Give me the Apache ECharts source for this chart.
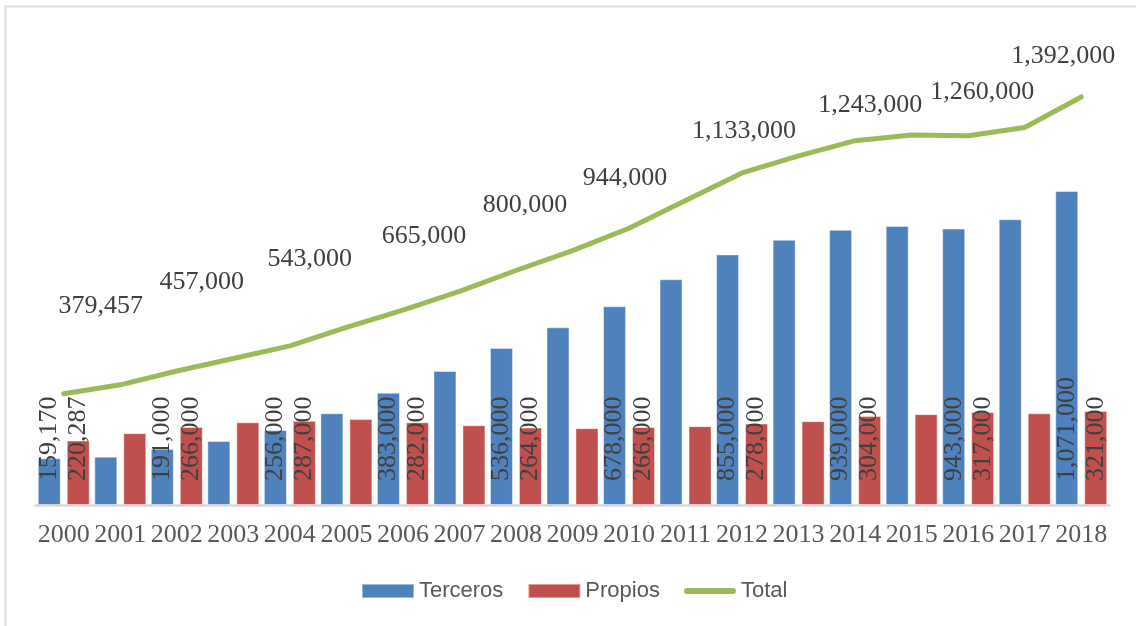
<!DOCTYPE html>
<html>
<head>
<meta charset="utf-8">
<script src="https://cdn.jsdelivr.net/npm/echarts@6/dist/echarts.min.js"></script>
<style>
  html, body { margin: 0; padding: 0; background: #ffffff; }
  #chart { width: 1136px; height: 626px; }
</style>
</head>
<body>
<div id="chart"></div>
<script>
// Years on the category axis
const years = ['2000','2001','2002','2003','2004','2005','2006','2007','2008','2009',
               '2010','2011','2012','2013','2014','2015','2016','2017','2018'];

// Series values
const terceros = [159170,165000,191000,218000,256000,313000,383000,457000,536000,606000,
                  678000,770000,855000,905000,939000,952000,943000,975000,1071000];
const propios  = [220287,245000,266000,282000,287000,293000,282000,272000,264000,262000,
                  266000,269000,278000,286000,304000,310000,317000,313000,321000];
const total    = [379457,410000,457000,500000,543000,606000,665000,729000,800000,868000,
                  944000,1039000,1133000,1191000,1243000,1262000,1260000,1288000,1392000];

// Years whose values carry a data label
const labeledYears = ['2000','2002','2004','2006','2008','2010','2012','2014','2016','2018'];

// Placement of the Total labels relative to their points (one per labelled year)
const totalLabelShift = [[37,-88],[25,-89],[20,-87],[21,-74],[9,-65],[-4,-50],[2,-42],[15,-35],[14,-43],[-18,-41]];

const fmt = v => v.toLocaleString('en-US');
const serif = '"Liberation Serif", "Times New Roman", serif';
const sans = '"Liberation Sans", Arial, sans-serif';

function barData(values) {
  return values.map((v, i) => ({
    value: v,
    label: { show: labeledYears.includes(years[i]) }
  }));
}

const totalData = total.map((v, i) => {
  const k = labeledYears.indexOf(years[i]);
  return {
    value: v,
    label: k >= 0 ? { show: true, offset: totalLabelShift[k] } : { show: false }
  };
});

const barLabel = {
  rotate: 90,
  position: 'insideBottom',
  distance: 24,
  align: 'left',
  verticalAlign: 'middle',
  fontFamily: serif,
  fontSize: 26,
  color: '#404040',
  formatter: p => fmt(p.value)
};

// Rounded thick stroke used as the legend key of the line series
const lineKey = 'path://M3,0 L49,0 A3,3 0 0 1 49,6 L3,6 A3,3 0 0 1 3,0 Z';

const chart = echarts.init(document.getElementById('chart'), null, { renderer: 'canvas' });

chart.setOption({
  animation: false,
  backgroundColor: '#ffffff',
  graphic: [{
    type: 'rect',
    shape: { x: 5.5, y: 6.5, width: 1300, height: 800 },
    style: { fill: 'none', stroke: '#dedede', lineWidth: 2 },
    silent: true,
    z: -10
  }],
  grid: { left: 35.5, right: 26.5, top: 36, bottom: 121 },
  legend: {
    left: 361,
    top: 580,
    padding: 0,
    itemWidth: 52,
    itemHeight: 14,
    itemGap: 24,
    textStyle: { fontFamily: sans, fontSize: 22, color: '#595959' },
    data: [
      { name: 'Terceros', icon: 'rect' },
      { name: 'Propios', icon: 'rect' },
      { name: 'Total', icon: lineKey }
    ]
  },
  xAxis: {
    type: 'category',
    data: years,
    axisLine: { show: true, lineStyle: { color: '#d9d9d9', width: 2.5 } },
    axisTick: { show: false },
    axisLabel: {
      interval: 0,
      margin: 17,
      fontFamily: serif,
      fontSize: 26,
      color: '#595959'
    },
    splitLine: { show: false }
  },
  yAxis: {
    type: 'value',
    min: 0,
    max: 1600000,
    show: false,
    splitLine: { show: false }
  },
  series: [
    {
      name: 'Terceros',
      type: 'bar',
      data: barData(terceros),
      barWidth: 23,
      barGap: '26%',
      itemStyle: { color: '#4f81bd', borderColor: 'rgba(255,255,255,0.45)', borderWidth: 1 },
      label: barLabel,
      z: 2
    },
    {
      name: 'Propios',
      type: 'bar',
      data: barData(propios),
      barWidth: 23,
      barGap: '26%',
      itemStyle: { color: '#c0504d', borderColor: 'rgba(255,255,255,0.45)', borderWidth: 1 },
      label: barLabel,
      z: 2
    },
    {
      name: 'Total',
      type: 'line',
      data: totalData,
      symbol: 'circle',
      symbolSize: 1,
      showSymbol: true,
      itemStyle: { color: '#9bbb59' },
      lineStyle: { color: '#9bbb59', width: 5, cap: 'round', join: 'round' },
      label: {
        position: 'inside',
        fontFamily: serif,
        fontSize: 26,
        color: '#404040',
        formatter: p => fmt(p.value)
      },
      z: 5
    }
  ]
});
</script>
</body>
</html>
